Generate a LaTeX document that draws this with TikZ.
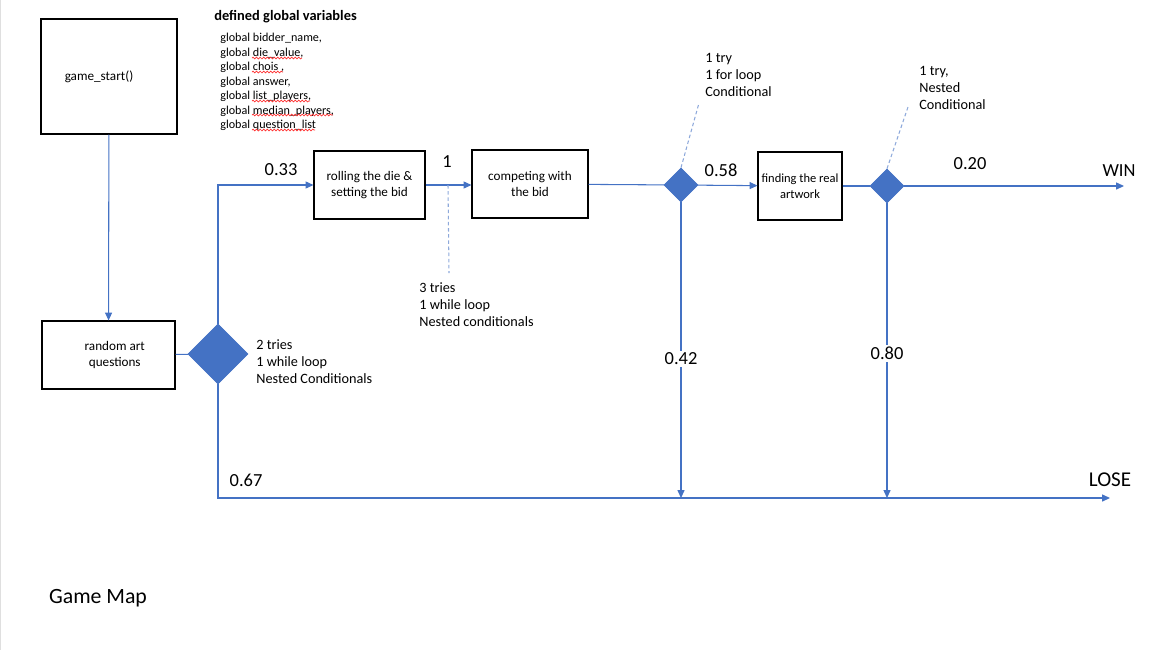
\documentclass[tikz,border=0pt]{standalone}
\usepackage{fontspec}
\setmainfont{Carlito}
\usepackage{xcolor}
\usepackage{tikz}
\usetikzlibrary{positioning}
\usetikzlibrary{shapes.geometric, arrows.meta, decorations.pathmorphing}
\definecolor{flowblue}{HTML}{4472C4}
\definecolor{noteblue}{HTML}{8EA9DB}
\tikzset{
    block/.style={draw, rectangle, line width=0.6pt, align=center, font=\fontsize{7.5}{9}\selectfont, minimum height=1.36cm},
    decision/.style={diamond, draw=flowblue, fill=flowblue, aspect=1, inner sep=0pt, minimum size=0.68cm},
    flow/.style={flowblue, line width=0.6pt},
    arrow/.style={flow, -{Triangle[length=4.5pt,width=4pt]}},
    note/.style={noteblue, line width=0.6pt, dash pattern=on 2pt off 1.5pt},
    prob/.style={inner sep=1pt, text=black, font=\fontsize{10.5}{12}\selectfont},
    remark/.style={align=left, inner sep=0pt, anchor=west, font=\fontsize{8.1}{9.6}\selectfont},
    squiggle/.style={red!80, line width=0.4pt, decorate, decoration={snake, amplitude=0.5pt, segment length=2pt}}
}

\begin{document}
\begin{tikzpicture}[x=0.02cm, y=-0.02cm]
\useasboundingbox (0,0) rectangle (1159,650);
\draw [gray!25, line width=1pt] (0.5,0) -- (0.5,650);

% boxes and decisions
\node [block, minimum width=2.72cm, minimum height=2.3cm] (start)   at (109,76.5) {game\_start()\hspace*{0.4cm}};
\node [block, minimum width=2.66cm]                       (quiz)    at (108.5,355) {\hspace*{0.25cm}random art\\\hspace*{0.25cm}questions};
\node [decision, minimum size=1.2cm]                      (tries)   at (218,354)   {};
\node [block, minimum width=2.22cm]                       (roll)    at (369.5,185) {rolling the die \&\\setting the bid};
\node [block, minimum width=2.32cm]                       (compete) at (530,184)   {competing with\\the bid};
\node [decision]                                          (bid)     at (681,185)   {};
\node [block, minimum width=1.68cm, inner xsep=1pt, font=\fontsize{7.1}{8.8}\selectfont] (find) at (800,186) {finding the real\\artwork};
\node [decision]                                          (real)    at (887,186)   {};

% end points
\coordinate (win)  at (1124,186);
\coordinate (lose) at (1110,498);
\coordinate (drop2) at (681,498);
\coordinate (drop3) at (887,498);
\coordinate (tap)   at (448,185);
\coordinate (note1) at (449,273);
\coordinate (note2) at (699,103);
\coordinate (note3) at (908,107);

% texts
\node [anchor=west, inner sep=0pt, font=\bfseries\fontsize{8.2}{10}\selectfont] (vartitle) at (214,17) {defined global variables};
\node [anchor=west, align=left, inner sep=0pt, font=\fontsize{6.9}{8.3}\selectfont] (vars) at (220,82)
    {global bidder\_name,\\global die\_value,\\global chois ,\\global answer,\\global list\_players,\\global median\_players,\\global question\_list};
\node [remark] (tryquiz)    at (256,362) {2 tries\\1 while loop\\Nested Conditionals};
\node [remark] (tryroll)    at (419,305) {3 tries\\1 while loop\\Nested conditionals};
\node [remark] (trycompete) at (705,75)  {1 try\\1 for loop\\Conditional};
\node [remark] (tryfind)    at (919,88)  {1 try,\\Nested\\Conditional};

\node [prob] (p033) at (281,170)  {0.33};
\node [prob] (p1)   at (447,162)  {1};
\node [prob] (p058) at (721,170)  {0.58};
\node [prob] (p020) at (970,164)  {0.20};
\node [prob] (wintxt)  at (1119,171) {WIN};
\node [prob] (p067) at (246,480)  {0.67};
\node [prob, font=\fontsize{12}{14}\selectfont] (losetxt) at (1110,480) {LOSE};
\node [font=\fontsize{12.4}{14}\selectfont] (title) at (98,598) {Game Map};

% spelling marks
\draw [squiggle] (252,58) -- (302,58);
\draw [squiggle] (252,72) -- (283,72);
\draw [squiggle] (252,101) -- (310,101);
\draw [squiggle] (252,115) -- (333,115);
\draw [squiggle] (252,130) -- (315,130);

% connectors
\draw [arrow] (start) -- (quiz);
\draw [flow]  (quiz) -- (tries);
\draw [arrow] (tries.north) |- (roll.west);
\draw [arrow] (tries.south) |- (lose);
\draw [arrow] (roll.east) -- (compete.west |- roll.east);
\draw [flow]  (compete) -- (bid);
\draw [arrow] (bid) -- (find);
\draw [flow]  (find) -- (real);
\draw [arrow] (real) -- (win);
\draw [arrow] (bid.south) -- node [prob, pos=0.53, fill=white] {0.42} (drop2);
\draw [arrow] (real.south) -- node [prob, pos=0.51, fill=white] {0.80} (drop3);

\draw [note] (tap) -- (note1);
\draw [note] (bid.north) -- (note2);
\draw [note] (real.north) -- (note3);

\end{tikzpicture}
\end{document}
